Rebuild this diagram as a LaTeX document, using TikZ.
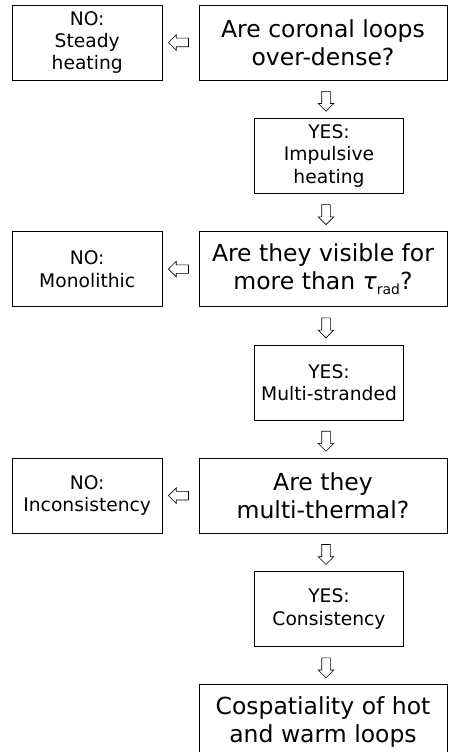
\documentclass[tikz,border=0pt]{standalone}
\usepackage{fontspec}
\setmainfont{DejaVu Sans}
\usetikzlibrary{positioning,shapes.arrows}
\newcommand\lowsub[1]{\raisebox{-5pt}{\fontsize{14}{14}\selectfont #1}}

\begin{document}
\begin{tikzpicture}[x=1pt,y=-1pt,
node distance=37.5pt and 36pt,
qbox/.style={draw,line width=0.8pt,align=center,minimum width=248pt,minimum height=75pt,inner sep=0pt,font=\fontsize{23.5}{28}\selectfont},
ybox/.style={qbox,minimum width=149pt,font=\fontsize{18.7}{22.4}\selectfont},
nbox/.style={ybox,minimum width=150pt},
harrow/.style={single arrow,draw,line width=0.6pt,minimum height=20pt,minimum width=15pt,inner sep=4pt,single arrow head extend=3.5pt}]
\useasboundingbox (0,0) rectangle (449,752);
\node[qbox] at (323,42.5) (q1) {Are coronal loops\\over-dense?};
\node[nbox,left=of q1] (n1) {NO:\\Steady\\heating};
\node[ybox,below=of q1,xshift=6pt] (y1) {YES:\\Impulsive\\heating};
\node[qbox,below=of y1,xshift=-6pt] (q2) {Are they visible for\\more than {\itshape τ}\lowsub{rad}?};
\node[nbox,left=of q2] (n2) {NO:\\Monolithic};
\node[ybox,below=of q2,xshift=6pt] (y2) {YES:\\Multi-stranded};
\node[qbox,below=of y2,xshift=-6pt] (q3) {Are they\\multi-thermal?};
\node[nbox,left=of q3] (n3) {NO:\\Inconsistency};
\node[ybox,below=of q3,xshift=6pt] (y3) {YES:\\Consistency};
\node[qbox,below=of y3,xshift=-6pt] (fin) {Cospatiality of hot\\and warm loops};
% block arrows
\path (q1) -- (n1) node[midway,harrow,shape border rotate=180] {};
\path (q2) -- (n2) node[midway,harrow,shape border rotate=180] {};
\path (q3) -- (n3) node[midway,harrow,shape border rotate=180] {};
\path (q1.south) -- (y1.north) node[midway,harrow,shape border rotate=270] {};
\path (y1.south) -- (q2.north) node[midway,harrow,shape border rotate=270] {};
\path (q2.south) -- (y2.north) node[midway,harrow,shape border rotate=270] {};
\path (y2.south) -- (q3.north) node[midway,harrow,shape border rotate=270] {};
\path (q3.south) -- (y3.north) node[midway,harrow,shape border rotate=270] {};
\path (y3.south) -- (fin.north) node[midway,harrow,shape border rotate=270] {};
\end{tikzpicture}
\end{document}
